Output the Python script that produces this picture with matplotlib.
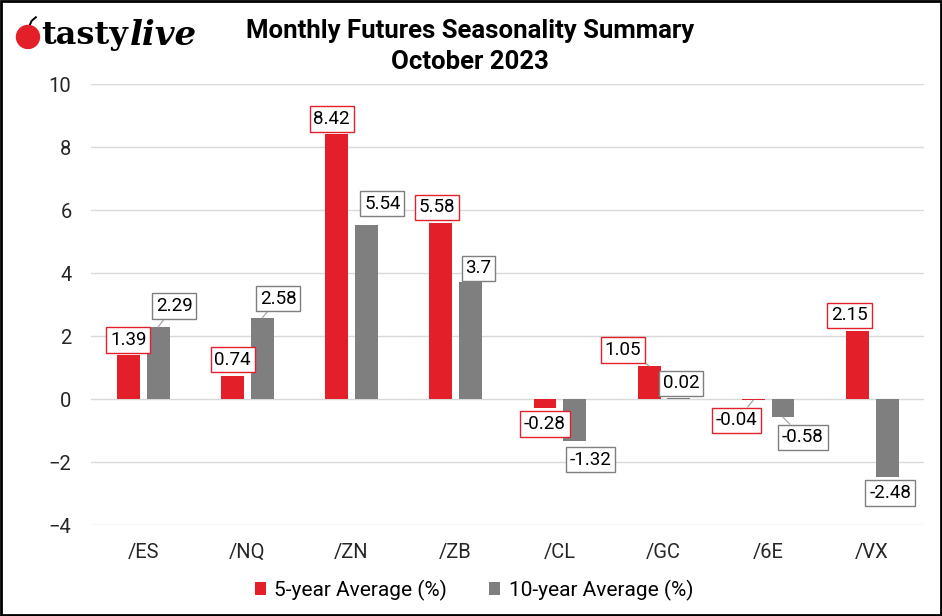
import numpy as np
import matplotlib.pyplot as plt
from matplotlib.patches import Rectangle, Ellipse

plt.rcParams['font.family'] = ['Roboto', 'DejaVu Sans']

# chart data
contracts = ['/ES', '/NQ', '/ZN', '/ZB', '/CL', '/GC', '/6E', '/VX']
avg5 = [1.39, 0.74, 8.42, 5.58, -0.28, 1.05, -0.04, 2.15]
avg10 = [2.29, 2.58, 5.54, 3.7, -1.32, 0.02, -0.58, -2.48]

# label offsets in pixels from bar end (dx, dy), and whether a leader line is drawn
off5 = [(0, 15), (0, 16), (-5, 15), (-4, 16), (0, -16), (-26, 16), (-17, -20), (-8, 16)]
off10 = [(16, 21), (16, 19), (16, 21), (8, 14), (16, -19), (2, 15), (20, -20), (3, -16)]
lead5 = [False, False, False, False, False, True, True, False]
lead10 = [True, True, False, False, False, False, True, False]

red = '#e3202a'
gray = '#7f7f7f'

fig = plt.figure(figsize=(9.42, 6.16), dpi=100)
ax = fig.add_axes([0.0966, 0.1477, 0.8844, 0.7159])

x = np.arange(len(contracts))
w = 0.22
b5 = ax.bar(x - 0.14, avg5, w, color=red, label='5-year Average (%)', zorder=2)
b10 = ax.bar(x + 0.145, avg10, w, color=gray, label='10-year Average (%)', zorder=2)

def labels(bars, vals, offs, leads, ec):
    for bar, v, (dx, dy), ld in zip(bars, vals, offs, leads):
        xc = bar.get_x() + bar.get_width() / 2
        ap = dict(arrowstyle='-', color='#a6a6a6', lw=0.9, shrinkA=0, shrinkB=0) if ld else None
        ax.annotate(f'{v:g}', (xc, v), xytext=(dx, dy), textcoords='offset pixels',
                    ha='center', va='center', fontsize=13.5, color='black',
                    bbox=dict(boxstyle='square,pad=0.2', fc='white', ec=ec, lw=1),
                    arrowprops=ap, zorder=5)

labels(b5, avg5, off5, lead5, red)
labels(b10, avg10, off10, lead10, gray)

ax.set_ylim(-4, 10)
ax.set_xlim(-0.5, len(contracts) - 0.5)
ax.set_yticks(range(-4, 11, 2))
ax.set_xticks(x)
ax.set_xticklabels(contracts)
ax.yaxis.grid(True, color='#d9d9d9', lw=1, zorder=0)
ax.set_axisbelow(True)
for s in ax.spines.values():
    s.set_visible(False)
ax.tick_params(length=0, labelsize=14.5, colors='#262626')
ax.tick_params(axis='x', pad=13)
ax.tick_params(axis='y', pad=14)

fig.legend(handles=[b5, b10], loc='center', bbox_to_anchor=(0.503, 0.042), ncol=2,
           frameon=False, fontsize=15, handlelength=0.55, handleheight=0.55,
           columnspacing=2.0, handletextpad=0.4)

fig.text(0.499, 0.949, 'Monthly Futures Seasonality Summary', ha='center', va='center',
         fontsize=18.5, fontweight='bold')
fig.text(0.499, 0.899, 'October 2023', ha='center', va='center', fontsize=18.5, fontweight='bold')

# logo
fig.patches.append(Ellipse((0.0297, 0.94), 23 / 942, 23 / 616, transform=fig.transFigure,
                           color='#e3202a', zorder=3))
fig.lines.append(plt.Line2D([0.031, 0.0335, 0.038], [0.957, 0.966, 0.972],
                            transform=fig.transFigure, color='black', lw=1.4))
fig.text(0.044, 0.942, 'tasty', ha='left', va='center', fontsize=23, fontweight='bold',
         family='DejaVu Serif')
fig.text(0.138, 0.942, 'live', ha='left', va='center', fontsize=24.5, fontweight='bold',
         style='italic', family='DejaVu Serif')

fig.patches.append(Rectangle((0.001, 0.0015), 0.998, 0.997, transform=fig.transFigure,
                             fill=False, ec='black', lw=2))

fig.savefig('out.png', dpi=100)
